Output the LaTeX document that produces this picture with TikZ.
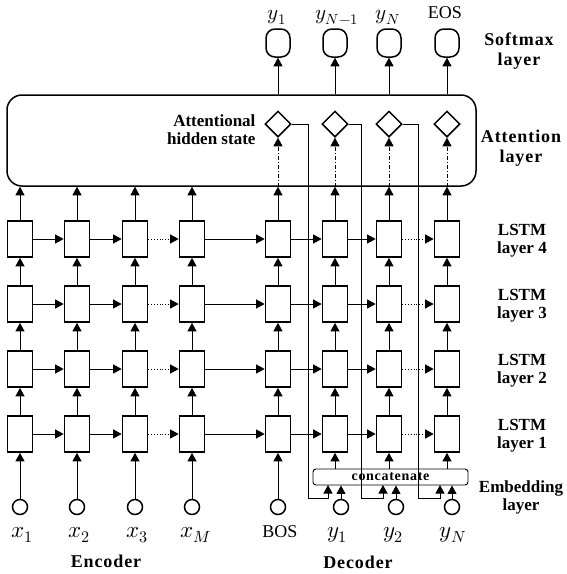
\documentclass[tikz,border=0pt]{standalone}
\usepackage{fontspec}
\usepackage{unicode-math}
\setmainfont{Liberation Serif}
\setmathfont{Latin Modern Math}
\usetikzlibrary{arrows.meta,shapes.geometric}
\tikzset{
  arr/.style={-{Triangle[length=8.5pt,width=9pt]}, line width=0.8pt},
  cell/.style={draw, line width=1.7pt, minimum width=25pt, minimum height=36pt, inner sep=0pt},
  inp/.style={draw, circle, line width=1.5pt, minimum size=15pt, inner sep=0pt},
  dia/.style={draw, diamond, line width=1.5pt, minimum width=26pt, minimum height=26pt, inner sep=0pt},
  soft/.style={draw, rounded corners=9pt, line width=1.5pt, minimum width=24pt, minimum height=28pt, inner sep=0pt},
  lab/.style={font=\fontsize{17}{18}\selectfont\bfseries, align=center},
  biglab/.style={font=\fontsize{18}{20}\selectfont\bfseries\addfontfeature{LetterSpace=5}, align=center},
  mlab/.style={font=\fontsize{23}{24}\selectfont, anchor=base, inner sep=0pt},
  toplab/.style={font=\fontsize{21}{22}\selectfont, anchor=base, inner sep=0pt},
  tlab/.style={font=\fontsize{18}{20}\selectfont, anchor=base, inner sep=0pt},
  dotline/.style={dotted},
  dashline/.style={dash pattern=on 4pt off 2pt on 1pt off 2pt, line width=0.7pt},
  loop/.style={line width=0.7pt}
}
\begin{document}
\begin{tikzpicture}[x=1pt,y=-1pt]
\useasboundingbox (0,0) rectangle (567,574);
% attention box
\node[draw, rounded corners=15pt, line width=1.5pt, minimum width=469pt, minimum height=91pt, inner sep=0pt] (att) at (241.5,140.5) {};
\node[lab, align=right, anchor=east] (ahs) at (259,130) {Attentional\\hidden state};
% LSTM cells
\foreach \c/\x in {1/20,2/77,3/135,4/192,5/278,6/335,7/389,8/447}{
  \foreach \r/\y in {1/434,2/369,3/304,4/239}{
    \node[cell] (L\r\c) at (\x,\y) {};
  }
}
% horizontal connections
\foreach \r in {1,2,3,4}{
  \draw[arr] (L\r1) -- (L\r2);
  \draw[arr] (L\r2) -- (L\r3);
  \draw[arr, dotline] (L\r3.east) -- (L\r4.west);
  \draw[arr] (L\r4) -- (L\r5);
  \draw[arr] (L\r5) -- (L\r6);
  \draw[arr] (L\r6) -- (L\r7);
  \draw[arr, dotline] (L\r7.east) -- (L\r8.west);
}
% vertical connections
\foreach \c in {1,...,8}{
  \draw[arr] (L1\c) -- (L2\c);
  \draw[arr] (L2\c) -- (L3\c);
  \draw[arr] (L3\c) -- (L4\c);
  \draw[arr] (L4\c.north) -- (L4\c.north |- att.south);
}
% diamonds and softmax
\foreach \i/\c/\x in {1/5/278,2/6/335,3/7/389,4/8/447}{
  \node[dia] (D\i) at (\x,124) {};
  \node[soft] (S\i) at (\x,43) {};
  \draw[arr, dashline] (L4\c.north |- att.south) -- (D\i.south);
  \draw[arr] (D\i.north |- att.north) -- (S\i.south);
}
% top labels
\node[toplab] (t1) at (277,19) {$y_1$};
\node[toplab] (t2) at (337,19) {$y_{N-1}$};
\node[toplab] (t3) at (388,19) {$y_N$};
\node[tlab] (t4) at (445,18) {EOS};
% inputs
\foreach \i/\x in {1/20,2/77,3/135,4/192}{
  \node[inp] (X\i) at (\x,507) {};
  \draw[arr] (X\i) -- (L1\i);
}
\node[inp] (B) at (278,507) {};
\draw[arr] (B) -- (L15);
% concatenate
\node[draw, rounded corners=3pt, line width=0.9pt, minimum width=155pt, minimum height=16pt, inner sep=0pt,
      font=\fontsize{14}{14}\selectfont\bfseries\addfontfeature{LetterSpace=5}] (cat) at (390.5,477) {concatenate};
\foreach \c in {6,7,8}{
  \draw[arr] (cat.north -| L1\c) -- (L1\c);
}
\foreach \i/\x/\k/\a in {1/341/308/328,2/396/361/383,3/452/418/440}{
  \node[inp] (Y\i) at (\x,507) {};
  \draw[arr] (Y\i) -- (Y\i |- cat.south);
  \coordinate (k\i) at (\k,498);
  \coordinate (a\i) at (\a,485);
  \draw[arr, loop] (D\i.east) -| (k\i) -| (a\i);
}
% bottom labels
\node[mlab] (bx1) at (22,537) {$x_1$};
\node[mlab] (bx2) at (79,537) {$x_2$};
\node[mlab] (bx3) at (137,537) {$x_3$};
\node[mlab] (bx4) at (196,537) {$x_M$};
\node[tlab] (bb) at (280,537) {BOS};
\node[mlab] (by1) at (337,537) {$y_1$};
\node[mlab] (by2) at (393,537) {$y_2$};
\node[mlab] (by3) at (453,537) {$y_N$};
\node[biglab] (enc) at (106,561) {Encoder};
\node[biglab] (dec) at (358,562) {Decoder};
% right labels
\node[biglab] (r1) at (519,51) {Softmax\\layer};
\node[biglab] (r2) at (521,148) {Attention\\layer};
\node[lab] (r3) at (522,241) {LSTM\\layer 4};
\node[lab] (r4) at (522,306) {LSTM\\layer 3};
\node[lab] (r5) at (522,371) {LSTM\\layer 2};
\node[lab] (r6) at (522,436) {LSTM\\layer 1};
\node[lab] (r7) at (521,497) {Embedding\\layer};
\end{tikzpicture}
\end{document}
